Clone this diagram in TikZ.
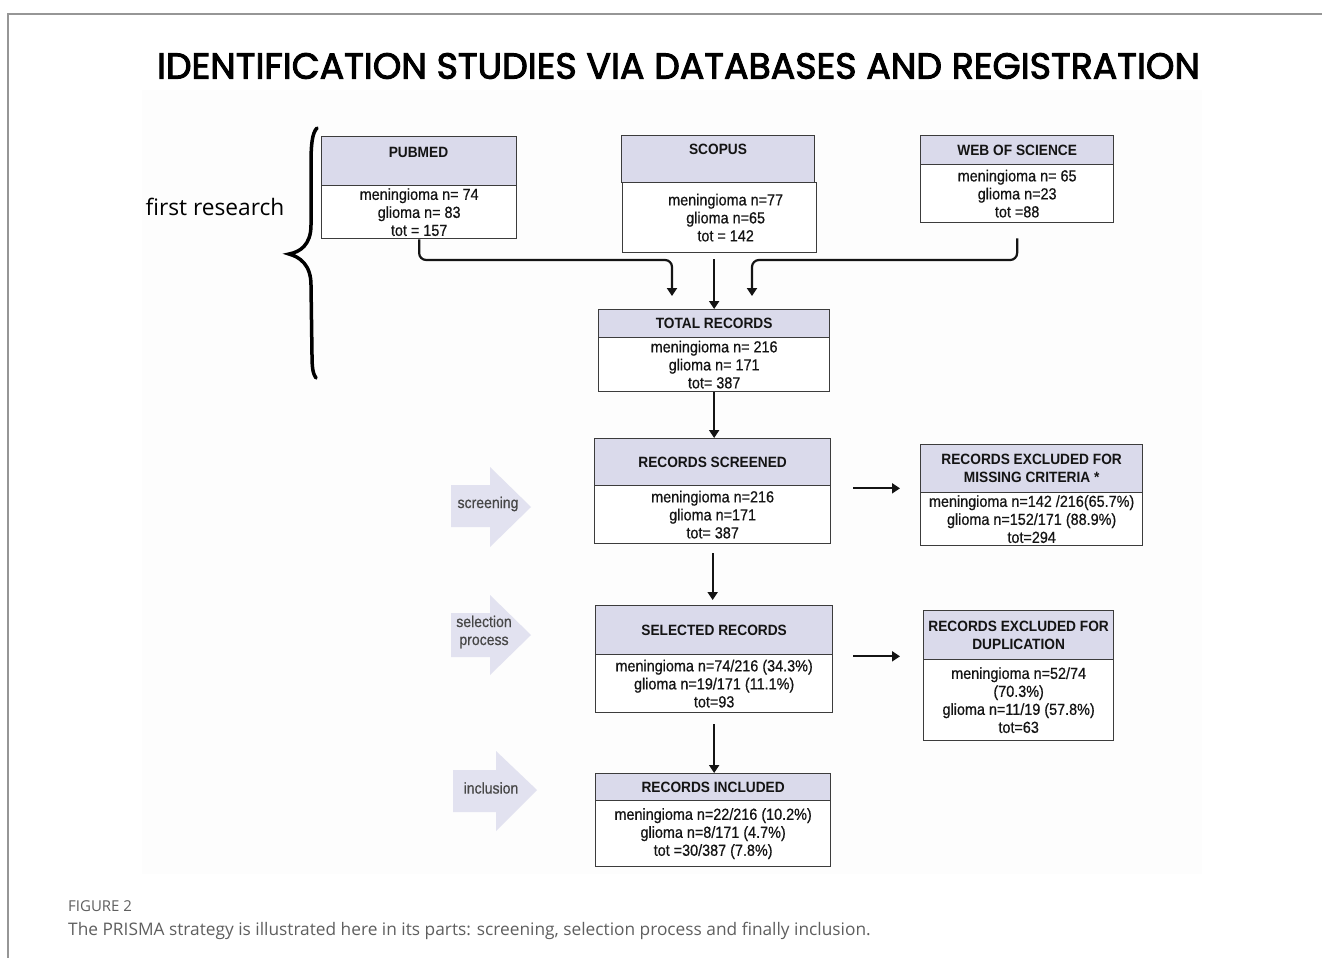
\documentclass[tikz,border=0pt]{standalone}
\usepackage{fontspec}
\usepackage{graphicx}
\setmainfont{Liberation Sans}
\newfontfamily\boxfont[FakeStretch=0.92]{Liberation Sans}
\newfontfamily\bodyfont[FakeStretch=0.9,FakeBold=0.6]{Liberation Sans}
\newfontfamily\titlefont[FakeBold=2.6]{Poppins}
\newfontfamily\capfont{Open Sans}
\usetikzlibrary{arrows.meta}
\definecolor{hdr}{RGB}{218,218,235}
\definecolor{sidear}{RGB}{226,226,240}
\definecolor{bord}{RGB}{60,60,60}
\definecolor{framec}{RGB}{150,150,150}
\definecolor{capgray}{RGB}{95,95,95}
\definecolor{inkc}{RGB}{20,20,20}
\begin{document}
\begin{tikzpicture}[x=1pt,y=-1pt,
  hd/.style={draw=bord, fill=hdr, line width=1.3, inner sep=0, anchor=north west, font=\boxfont\bfseries\fontsize{14.9}{18}\selectfont, text=inkc, align=center},
  bd/.style={draw=bord, fill=white, line width=1.3, inner sep=0, anchor=north west, font=\bodyfont\fontsize{16}{18}\selectfont, text=inkc, align=center},
  htx/.style={font=\boxfont\bfseries\fontsize{14.9}{18}\selectfont, text=inkc, inner sep=0},
  arrc/.style={draw=inkc, line width=2.2, -{Triangle[width=10,length=8]}},
  side/.style={fill=sidear, draw=none},
  sidetx/.style={font=\bodyfont\fontsize{15.6}{18}\selectfont, text=black!72, align=center, inner sep=0}
]
\useasboundingbox (0,0) rectangle (1322,958);
\fill[white] (0,0) rectangle (1322,958);
\draw[framec, line width=1.3] (8,958) -- (8,14) -- (1322,14);
\fill[black!0.7] (142,90) rectangle (1202,874);

% title
\node[inner sep=0] (title) at (678.5,66) {\resizebox{1043pt}{!}{\titlefont\fontsize{32}{36}\selectfont IDENTIFICATION STUDIES VIA DATABASES AND REGISTRATION}};

% first research + brace
\node[font=\capfont\fontsize{22.7}{26}\selectfont, inner sep=0] (fr) at (215,207) {first research};
\draw[line width=3.5, line cap=round] (317,128) .. controls (312,133) and (311,145) .. (311,165) -- (311,225) .. controls (311,245) and (300,252) .. (289,254) .. controls (300,257) and (311,265) .. (311,285) -- (312,355) .. controls (312,368) and (313,374) .. (316,378);

% PUBMED
\node[hd, minimum width=195, minimum height=49] (pubH) at (321,136) {};
\node[htx] (pubT) at (418.5,152) {PUBMED};
\node[bd, minimum width=195, minimum height=53] (pubB) at (321,185) {meningioma n= 74\\glioma n= 83\\tot = 157};
% SCOPUS
\node[hd, minimum width=193, minimum height=47] (scoH) at (621,135) {};
\node[htx] (scoT) at (718,149) {SCOPUS};
\node[bd, minimum width=194, minimum height=70] (scoB) at (622,182) {\hspace*{12pt}meningioma n=77\\\hspace*{12pt}glioma n=65\\\hspace*{12pt}tot = 142};
% WEB OF SCIENCE
\node[hd, minimum width=193, minimum height=29] (wosH) at (920,135) {WEB OF SCIENCE};
\node[bd, minimum width=193, minimum height=58] (wosB) at (920,164) {meningioma n= 65\\glioma n=23\\tot =88};
% TOTAL
\node[hd, minimum width=231, minimum height=28] (totH) at (598,309) {TOTAL RECORDS};
\node[bd, minimum width=231, minimum height=54] (totB) at (598,337) {meningioma n= 216\\glioma n= 171\\tot= 387};
% SCREENED
\node[hd, minimum width=236, minimum height=47] (scrH) at (594,438) {RECORDS SCREENED};
\node[bd, minimum width=236, minimum height=58] (scrB) at (594,485) {meningioma n=216\\glioma n=171\\tot= 387};
% EXCLUDED MISSING
\node[hd, minimum width=222, minimum height=48] (excH) at (920,444) {RECORDS EXCLUDED FOR\\MISSING CRITERIA *};
\node[bd, minimum width=222, minimum height=53] (excB) at (920,492) {meningioma n=142 /216(65.7\%)\\glioma n=152/171 (88.9\%)\\tot=294};
% SELECTED
\node[hd, minimum width=237, minimum height=49] (selH) at (595,605) {SELECTED RECORDS};
\node[bd, minimum width=237, minimum height=58] (selB) at (595,654) {meningioma n=74/216 (34.3\%)\\glioma n=19/171 (11.1\%)\\tot=93};
% EXCLUDED DUPLICATION
\node[hd, minimum width=190, minimum height=49] (dupH) at (923,610) {RECORDS EXCLUDED FOR\\DUPLICATION};
\node[bd, minimum width=190, minimum height=81] (dupB) at (923,659) {meningioma n=52/74\\(70.3\%)\\glioma n=11/19 (57.8\%)\\tot=63};
% INCLUDED
\node[hd, minimum width=235, minimum height=27] (incH) at (595,773) {RECORDS INCLUDED};
\node[bd, minimum width=235, minimum height=66] (incB) at (595,800) {meningioma n=22/216 (10.2\%)\\glioma n=8/171 (4.7\%)\\tot =30/387 (7.8\%)};

% connectors
\coordinate (jL) at (672,260);
\coordinate (inL) at (672,296);
\coordinate (jR) at (752,260);
\coordinate (inR) at (752,296);
\draw[arrc, rounded corners=7] (pubB.south) -- (pubB.south |- jL) -- (jL) -- (inL);
\draw[arrc, rounded corners=7] ([yshift=-15]wosB.south) -- (wosB.south |- jR) -- (jR) -- (inR);
\draw[arrc] ([yshift=-6]totH.north |- scoB.south) -- (totH.north);
\draw[arrc] (totB.south) -- (totB.south |- scrH.north);
\draw[arrc, shorten <=9, shorten >=5] (scrB.south) -- (scrB.south |- selH.north);
\draw[arrc, shorten <=11] (selB.south) -- (selB.south |- incH.north);
\draw[arrc, shorten <=22, shorten >=20] ([yshift=-2]scrH.south east) -- ([yshift=-2]scrH.south east -| excH.west);
\draw[arrc, shorten <=20, shorten >=23] ([yshift=-1]selH.south east) -- ([yshift=-1]selH.south east -| dupH.west);

% side block arrows
\fill[side] (451,485) -- (490,485) -- (490,467) -- (531,507) -- (490,547) -- (490,527) -- (451,527) -- cycle;
\fill[side] (451,613) -- (490,613) -- (490,595) -- (531,635) -- (490,675) -- (490,657) -- (451,657) -- cycle;
\fill[side] (453,770) -- (496,770) -- (496,751) -- (537,790) -- (496,831) -- (496,812) -- (453,812) -- cycle;
\node[sidetx] (s1) at (488,504) {screening};
\node[sidetx] (s2) at (484,632) {selection\\process};
\node[sidetx] (s3) at (491,788) {inclusion};

% caption
\node[anchor=base west, inner sep=0, font=\capfont\fontsize{15}{18}\selectfont, text=capgray] (fig) at (68,911) {FIGURE 2};
\node[anchor=base west, inner sep=0, font=\capfont\fontsize{17.3}{20}\selectfont, text=capgray] (cap) at (68,935) {The PRISMA strategy is illustrated here in its parts: screening, selection process and finally inclusion.};
\end{tikzpicture}
\end{document}
